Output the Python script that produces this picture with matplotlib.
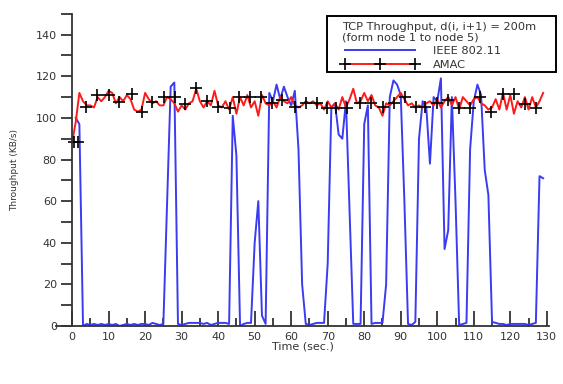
import numpy as np
import matplotlib.pyplot as plt
from matplotlib.lines import Line2D
from matplotlib.patches import Rectangle

plt.rcParams['font.family'] = ['DejaVu Sans']

# IEEE 802.11 throughput, one sample per second from t = 1
t_ieee = np.arange(1, 130)
ieee = [100, 97, 0, 1, 0.5, 1, 0.5, 1, 0.5, 1, 0.5, 1, 0, 0.5, 1, 0.5, 1, 0.5, 1, 1,
        0.5, 1.5, 1, 0.5, 1, 58, 115, 117, 1, 0.5, 1, 1.5, 1.5, 1.5, 1.5, 1, 1.5, 0.5, 1, 1.5,
        1.5, 1.5, 1, 101, 82, 0, 1, 1.5, 1.5, 40, 60, 5, 1, 112, 108, 116, 109, 115, 110, 106,
        113, 85, 20, 1, 0.5, 1, 1.5, 1.5, 1.5, 30, 105, 107, 92, 90, 108, 55, 1, 1, 1, 97, 106,
        1, 1.5, 1.5, 1.5, 20, 110, 118, 116, 111, 60, 1, 0.5, 2, 90, 108, 105, 78, 110, 108, 119,
        37, 46, 110, 60, 0.5, 1, 1.5, 85, 108, 116, 111, 75, 63, 2, 1.5, 1, 1, 0.5, 1, 1,
        1, 1, 1, 0.5, 1, 1.5, 72, 71]

# AMAC throughput, one sample per second from t = 0
t_amac = np.arange(0, 130)
amac = [88, 98, 112, 108, 106, 106, 105, 110, 108, 110, 113, 112, 107, 110, 108, 111, 109, 104, 103, 104,
        112, 109, 107, 108, 106, 106, 110, 109, 107, 103, 106, 104, 107, 108, 114, 108, 105, 108, 106, 113,
        106, 105, 108, 104, 110, 102, 110, 106, 111, 105, 108, 101, 111, 107, 106, 108, 105, 110, 108, 107,
        110, 106, 105, 106, 108, 107, 108, 106, 107, 104, 108, 105, 107, 104, 110, 105, 109, 114, 107, 108,
        112, 108, 111, 106, 105, 101, 107, 106, 108, 110, 112, 109, 106, 107, 105, 106, 105, 107, 108, 106,
        109, 105, 108, 110, 106, 110, 104, 110, 108, 106, 109, 110, 107, 106, 104, 105, 109, 104, 112, 104,
        111, 102, 108, 105, 110, 104, 110, 105, 108, 112]

# AMAC sample markers
mark_t = [0.5, 1.5, 3.7, 6.9, 10, 12.8, 16.3, 19.2, 22, 25.1, 28.1, 31, 34, 37, 39.9, 43.3,
          45.8, 48.8, 51.7, 54.7, 57.6, 61.1, 64, 67, 69.8, 72.4, 75.4, 78.8, 81.8, 85.2, 88.2,
          91.1, 94.1, 96.6, 100, 102.9, 105.9, 108.9, 111.8, 114.8, 118, 121, 124.1, 127.1]
mark_v = [88.3, 88.3, 105.4, 111, 111, 107.5, 111.5, 102.7, 107.5, 110, 110, 106.7, 114.4, 108.3,
          105.4, 104.6, 110, 110, 110, 107, 108.6, 105.4, 107, 107, 104.6, 104.6, 104.6, 107, 107,
          105.4, 107, 110, 105.4, 105.4, 107, 108.6, 104.6, 104.6, 110, 103, 111.5, 111.5, 106.7, 104.6]

fig = plt.figure(figsize=(5.63, 3.84), dpi=100)
ax = fig.add_axes([56 / 563, 0.151, 493 / 563, 0.813])

ax.plot(t_ieee, ieee, color='#3b3bf2', lw=1.4)
ax.plot(t_amac, amac, color='#ff1a1a', lw=1.4)
ax.plot(mark_t, mark_v, ls='none', marker='+', ms=8.5, mew=1.2, color='black')

ax.set_xlim(-4.4, 130.6)
ax.set_ylim(0, 150)
ax.spines['left'].set_position(('data', 0))
ax.spines['top'].set_visible(False)
ax.spines['right'].set_visible(False)
for s in ('left', 'bottom'):
    ax.spines[s].set_linewidth(1.3)
    ax.spines[s].set_color('#333333')

ax.set_xticks(np.arange(0, 131, 10))
ax.set_xticks(np.arange(5, 130, 10), minor=True)
ax.set_yticks(np.arange(0, 141, 20))
ax.set_yticks(np.arange(10, 151, 20), minor=True)
ax.tick_params(axis='x', which='major', direction='in', length=11, width=1.3, labelsize=8,
               colors='#333333', pad=4)
ax.tick_params(axis='x', which='minor', direction='in', length=6, width=1.3, colors='#333333')
ax.tick_params(axis='y', which='both', direction='out', length=8, width=1.3, labelsize=8,
               colors='#333333', pad=3)

ax.set_xlabel('Time (sec.)', fontsize=8, color='#333333', labelpad=0)
ax.set_ylabel('Throughput (KB/s)', fontsize=6.5, color='#333333', labelpad=12)

# legend frame and title drawn by hand, entries from fig.legend
fig.patches.append(Rectangle((327 / 563, 1 - 72 / 384), 229 / 563, 56 / 384,
                             transform=fig.transFigure, fill=True, facecolor='white',
                             edgecolor='black', lw=1.4, zorder=5))
fig.text(342 / 563, 1 - 27 / 384, 'TCP Throughput, d(i, i+1) = 200m', fontsize=8.2,
         color='#333333', va='center', ha='left', zorder=6)
fig.text(342 / 563, 1 - 38 / 384, '(form node 1 to node 5)', fontsize=8.2,
         color='#333333', va='center', ha='left', zorder=6)

h_ieee = Line2D([], [], color='#3b3bf2', lw=1.4)
h_amac = Line2D([], [], color='#ff1a1a', lw=1.4, marker='+', ms=8.5, mew=1.2, mec='black')
leg = fig.legend([h_ieee, h_amac], ['IEEE 802.11', 'AMAC'],
                 loc='upper left', bbox_to_anchor=(342 / 563, 1 - 45.5 / 384),
                 fontsize=8.2, numpoints=3,
                 handlelength=6.7, handletextpad=1.3, labelspacing=0.4,
                 frameon=False, borderpad=0, borderaxespad=0)
leg.set_zorder(6)
for txt in leg.get_texts():
    txt.set_color('#333333')

fig.savefig('out.png', dpi=100)
